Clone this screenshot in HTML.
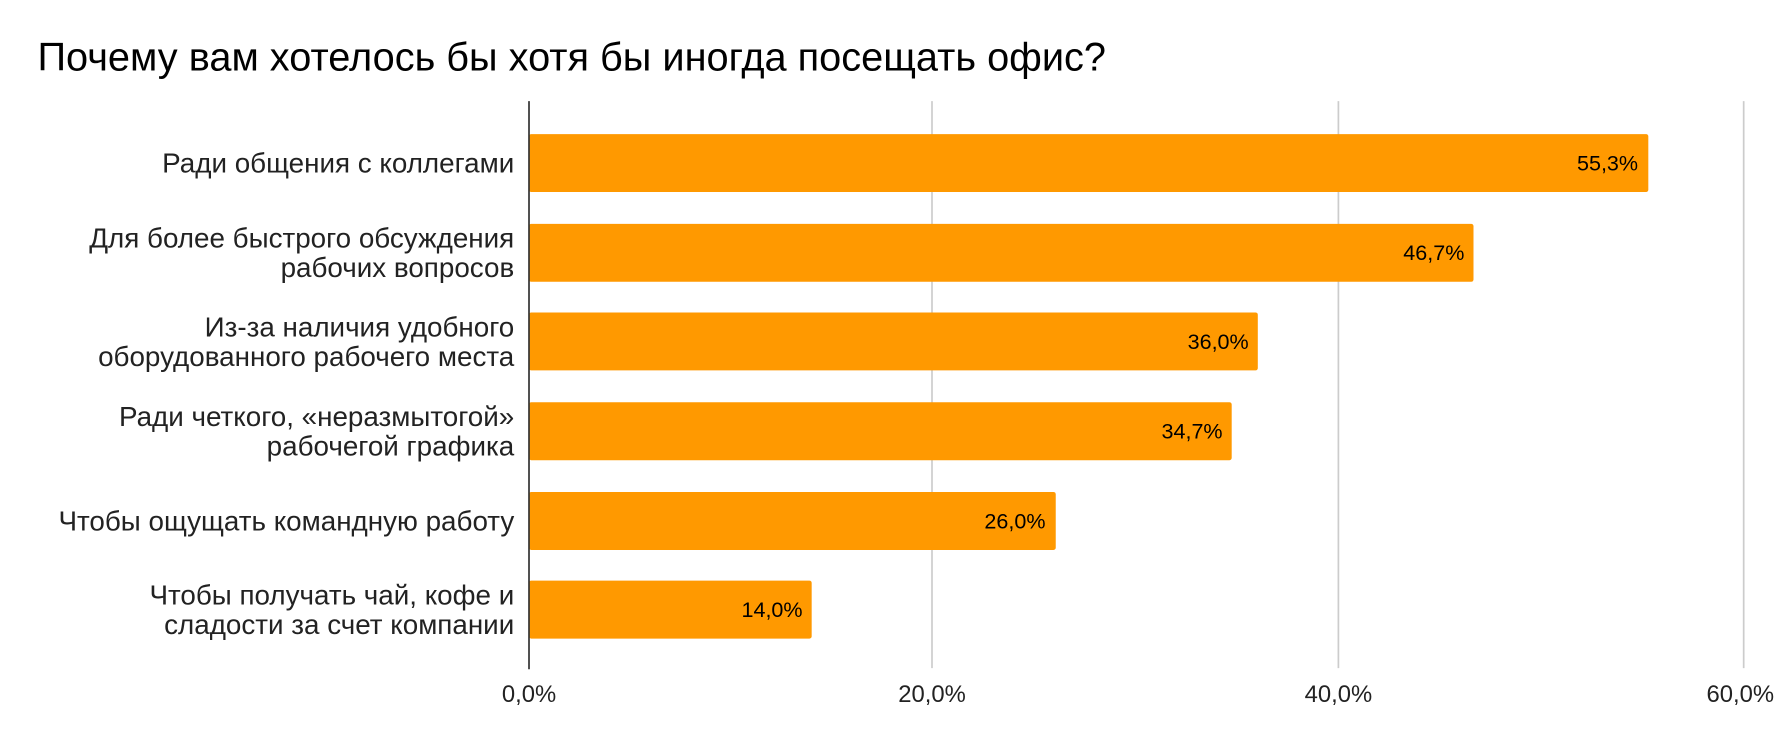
<!DOCTYPE html>
<html><head><meta charset="utf-8"><style>html,body{margin:0;padding:0;background:#fff}svg{display:block}</style></head>
<body>
<svg width="1780" height="742" viewBox="0 0 1568 653" preserveAspectRatio="none" xmlns="http://www.w3.org/2000/svg" font-family="Liberation Sans, Noto Sans CJK SC, sans-serif">
<rect width="1568" height="653" fill="#fff"/>
<text x="33" y="62" font-size="35" fill="#000">Почему вам хотелось бы хотя бы иногда посещать офис?</text>
<g stroke="#cccccc" stroke-width="1.5">
<line x1="821" y1="89" x2="821" y2="588"/>
<line x1="1179" y1="89" x2="1179" y2="588"/>
<line x1="1536" y1="89" x2="1536" y2="588"/>
</g>
<g fill="#ff9900">
<rect x="466" y="118" width="986" height="51" rx="2"/>
<rect x="466" y="197" width="832" height="51" rx="2"/>
<rect x="466" y="275" width="642" height="51" rx="2"/>
<rect x="466" y="354" width="619" height="51" rx="2"/>
<rect x="466" y="433" width="464" height="51" rx="2"/>
<rect x="466" y="511" width="249" height="51" rx="2"/>
</g>
<line x1="466" y1="89" x2="466" y2="589" stroke="#333" stroke-width="1.5"/>
<g font-size="24.5" fill="#222" text-anchor="end">
<text x="453" y="152">Ради общения с коллегами</text>
<text x="453" y="218">Для более быстрого обсуждения</text>
<text x="453" y="244">рабочих вопросов</text>
<text x="453" y="296">Из-за наличия удобного</text>
<text x="453" y="322">оборудованного рабочего места</text>
<text x="453" y="375">Ради четкого, «неразмытогой»</text>
<text x="453" y="401">рабочегой графика</text>
<text x="453" y="467">Чтобы ощущать командную работу</text>
<text x="453" y="532">Чтобы получать чай, кофе и</text>
<text x="453" y="558">сладости за счет компании</text>
</g>
<g font-size="19" fill="#000" text-anchor="end">
<text x="1443" y="150">55,3%</text>
<text x="1290" y="229">46,7%</text>
<text x="1100" y="307">36,0%</text>
<text x="1077" y="386">34,7%</text>
<text x="921" y="465">26,0%</text>
<text x="707" y="543">14,0%</text>
</g>
<g font-size="21" fill="#222" text-anchor="middle">
<text x="466" y="618">0,0%</text>
<text x="821" y="618">20,0%</text>
<text x="1179" y="618">40,0%</text>
<text x="1533" y="618">60,0%</text>
</g>
</svg>
</body></html>
